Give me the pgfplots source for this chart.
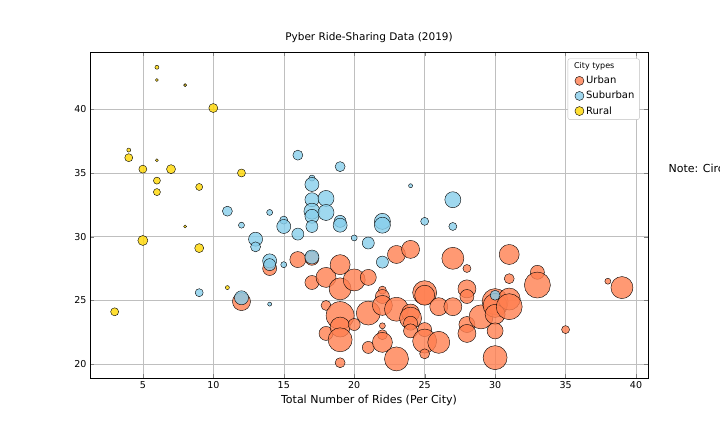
\documentclass[border=0pt]{standalone}
\usepackage{pgfplots}
\pgfplotsset{compat=1.18}
\usepackage{fontspec}
\setmainfont{DejaVu Sans}
\definecolor{cu}{HTML}{FF7F50}
\definecolor{cs}{HTML}{87CEEB}
\definecolor{cr}{HTML}{FFD700}
\pgfplotsset{bub/.style={scatter,only marks,mark=*,
 scatter/use mapped color={draw=black,fill=#1,fill opacity=0.8},
 visualization depends on={\thisrow{r}\as\rr},
 scatter/@pre marker code/.append style={/tikz/mark size=\rr pt},
 legend image code/.code={\draw[black,fill=#1,fill opacity=0.8] (0.3cm,0) circle (4.5pt);}}}
\begin{document}
\begin{tikzpicture}
\useasboundingbox (0,0) rectangle (720pt,432pt);
\clip (0,0) rectangle (720pt,432pt);
\begin{axis}[at={(90pt,54pt)},anchor=south west,scale only axis,
 width=558pt,height=326pt,xmin=1.25,xmax=40.85,ymin=18.9,ymax=44.5,
 xtick={5,10,...,40},ytick={20,25,...,40},grid=major,
 grid style={gray!50,line width=0.5pt},
 tick label style={font=\fontsize{9.5}{10}\selectfont},
 /pgf/number format/assume math mode=true,
 title={\fontsize{10.5}{12}\selectfont Pyber Ride-Sharing Data (2019)},
 xlabel={\fontsize{11}{13}\selectfont Total Number of Rides (Per City)},
 legend style={at={(0.985,0.98)},anchor=north east,font=\fontsize{10}{12}\selectfont,row sep=2pt,draw=gray!50,rounded corners=2pt},
 legend cell align=left,
]
\addlegendimage{empty legend}\addlegendentry{\hspace{-12pt}\fontsize{8}{10}\selectfont City types}
\addplot[bub=cu] table {
x y r
12 24.9 9
14 27.5 7
16 28.2 8
17 26.4 7
17 28.3 7
18 26.8 10
18 24.6 5
18 22.4 7
19 27.8 10
19 25.9 11
19 23.8 14
19 22.9 10
19 21.9 12
19 20.1 5
20 26.6 11
20 23.1 6
21 26.8 8
21 24.0 12
21 21.3 6
22 25.8 4
22 25.3 7
22 24.6 10
22 23.0 3
22 22.3 5
22 21.7 10
23 28.6 9
23 24.3 12
23 20.4 12
24 29.0 9
24 24.0 9
24 23.6 11
24 23.2 7
24 22.6 7
25 25.6 12
25 25.4 10
25 22.7 7
25 21.8 12
25 20.8 5
26 24.5 9
26 21.7 11
27 28.3 11
27 24.5 9
28 27.5 4
28 25.9 9
28 25.3 7
28 23.1 8
28 22.4 9
29 23.7 12
30 24.9 13
30 24.6 12
30 23.9 10
30 22.6 8
30 20.5 12
31 28.6 10
31 26.7 5
31 25.1 11
31 24.5 13
33 27.2 7
33 26.2 13
35 22.7 4
38 26.5 3
39 26.0 11
};
\addlegendentry{Urban}
\addplot[bub=cs] table {
x y r
9 25.6 4
11 32.0 5
12 30.9 3
12 25.2 7
13 29.8 7
13 29.2 5
14 31.9 3
14 28.1 7
14 27.8 6
14 24.7 2
15 31.3 4
15 30.8 7
15 27.8 3
16 36.4 5
16 30.2 6
17 34.6 3
17 34.1 7
17 32.9 7
17 32.0 8
17 31.6 7
17 30.8 6
17 28.4 7
18 33.0 8
18 31.9 8
19 35.5 5
19 31.2 6
19 30.9 7
20 29.9 3
21 29.5 6
22 31.2 8
22 30.9 8
22 28.0 6
24 34.0 2
25 31.2 4
27 32.9 8
27 30.8 4
30 25.4 5
};
\addlegendentry{Suburban}
\addplot[bub=cr] table {
x y r
3 24.1 4
4 36.8 2
4 36.2 4
5 35.3 4
5 29.7 5
6 43.3 2
6 42.3 1.5
6 36.0 1.5
6 34.4 3.5
6 33.5 3.5
7 35.3 4.5
8 41.9 1.5
8 30.8 1.5
9 33.9 3.5
9 29.1 4.5
10 40.1 4.5
11 26.0 2
12 35.0 4
};
\addlegendentry{Rural}
\end{axis}
\node[anchor=west,font=\fontsize{11}{13}\selectfont] at (665pt,263pt) {Note: Circle size correlates with driver count per city.};
\end{tikzpicture}
\end{document}
